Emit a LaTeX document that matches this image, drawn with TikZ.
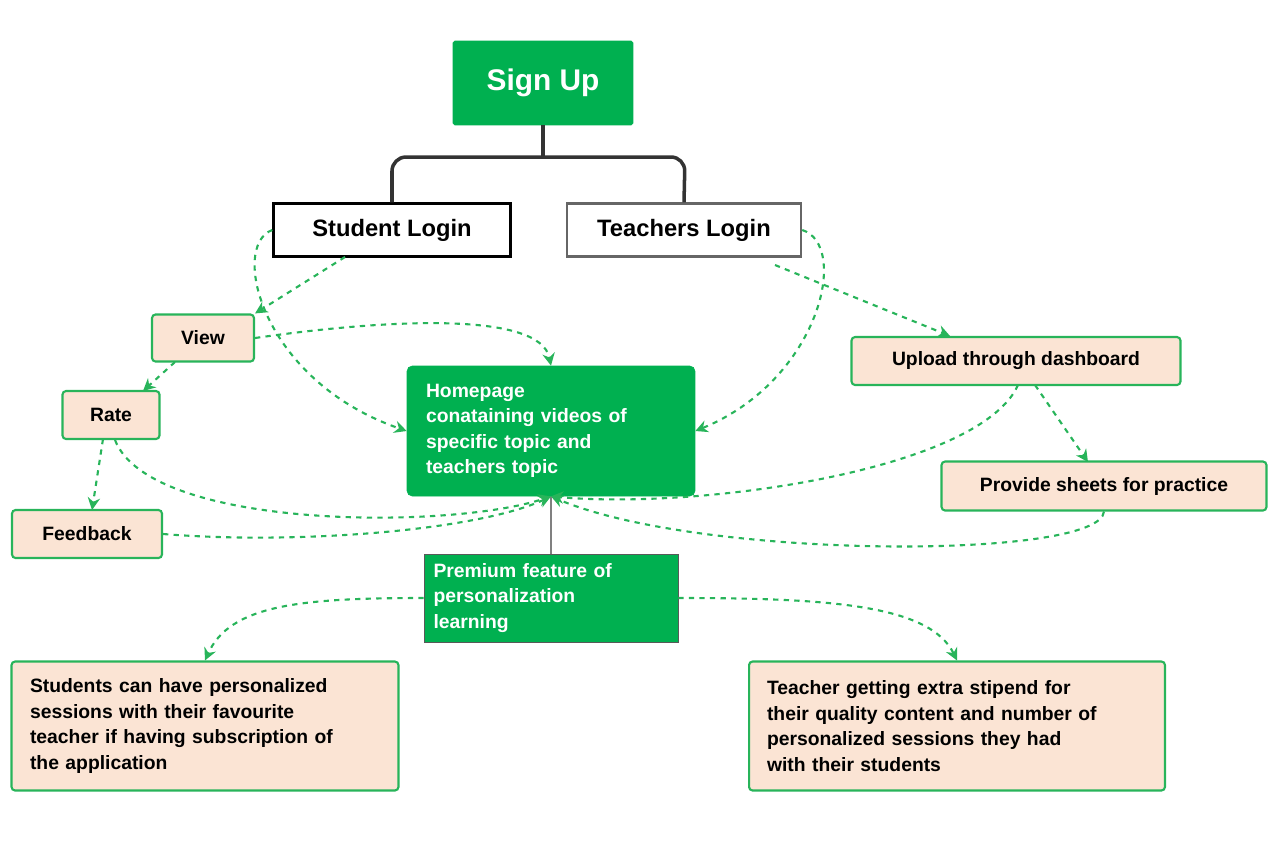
\documentclass[tikz,border=0pt]{standalone}
\usepackage{fontspec}
\setmainfont{Liberation Sans}
\usetikzlibrary{arrows.meta}
\definecolor{signgreen}{RGB}{0,176,80}
\definecolor{peach}{RGB}{251,228,212}
\definecolor{linegreen}{RGB}{40,180,90}
\begin{document}
\begin{tikzpicture}[x=0.02cm, y=-0.02cm,
  greenbox/.style={fill=signgreen, draw=signgreen, text=white, font=\bfseries\fontsize{11}{14.5}\selectfont, rounded corners=1pt},
  login/.style={draw, fill=white, line width=1.4pt, font=\bfseries\fontsize{13.5}{16}\selectfont},
  peachbox/.style={draw=linegreen, fill=peach, line width=1.2pt, rounded corners=2pt, font=\bfseries\fontsize{11}{14.5}\selectfont},
  flow/.style={draw=linegreen, dashed, line width=1.2pt, -{Stealth[length=7pt,width=7pt]}}]
  \useasboundingbox (0,0) rectangle (1280,846);
  % boxes
  \node[greenbox, minimum width=3.6cm, minimum height=1.68cm, font=\bfseries\fontsize{17}{20}\selectfont] (signup) at (543,83) {Sign Up};
  \node[login, minimum width=4.74cm, minimum height=1.06cm] (student) at (392,230) {Student Login};
  \node[login, draw=gray!80!black, minimum width=4.68cm, minimum height=1.06cm] (teacher) at (684,230) {Teachers Login};
  \node[peachbox, minimum width=2.04cm, minimum height=0.94cm] (view) at (203,338) {View};
  \node[peachbox, minimum width=1.94cm, minimum height=0.96cm] (rate) at (111,415) {Rate};
  \node[peachbox, minimum width=3.0cm, minimum height=0.96cm] (feedback) at (87,534) {Feedback};
  \node[greenbox, rounded corners=3pt, minimum width=5.76cm, minimum height=2.6cm, text width=5.0cm, align=left] (home) at (551,431)
    {Homepage\\conataining videos of\\specific topic and\\teachers topic};
  \node[peachbox, minimum width=6.58cm, minimum height=0.96cm] (upload) at (1016,361) {Upload through dashboard};
  \node[peachbox, minimum width=6.5cm, minimum height=0.98cm] (sheets) at (1104,486) {Provide sheets for practice};
  \node[greenbox, draw=gray!70!black, rounded corners=0pt, minimum width=5.08cm, minimum height=1.76cm, text width=4.7cm, align=left] (premium) at (551,598)
    {Premium feature of\\personalization\\learning};
  \node[peachbox, minimum width=7.74cm, minimum height=2.58cm, text width=7.0cm, align=left] (students) at (205,726)
    {Students can have personalized\\sessions with their favourite\\teacher if having subscription of\\the application};
  \node[peachbox, minimum width=8.32cm, minimum height=2.58cm, text width=7.6cm, align=left] (teachers) at (957,726)
    {Teacher getting extra stipend for\\their quality content and number of\\personalized sessions they had\\with their students};
  % tree from sign up
  \draw[line width=2pt, draw=black!80, rounded corners=8pt] (student.north) -- (392,157) -- (685,157) -- (teacher.north);
  \draw[line width=2pt, draw=black!80] (signup.south) -- (543,157);
  \draw[gray, line width=0.8pt] (premium.north) -- (home.south);
  % flows
  \draw[flow] (345,257) -- (view.north east);
  \draw[flow] (student.west) .. controls (230,245) and (260,380) .. (home.west);
  \draw[flow] (teacher.east) .. controls (850,245) and (820,380) .. (home.east);
  \draw[flow] (775,265) -- (950,336);
  \draw[flow] (view.east) .. controls (380,320) and (540,310) .. (home.north);
  \draw[flow] (175,362) -- (143,391);
  \draw[flow] (103,439) -- (92,510);
  \draw[flow] (115,440) .. controls (150,530) and (450,530) .. (home.south);
  \draw[flow] (feedback.east) .. controls (300,545) and (480,530) .. (home.south);
  \draw[flow] (1018,385) .. controls (980,470) and (700,510) .. (home.south);
  \draw[flow] (1035,385) -- (1088,462);
  \draw[flow] (sheets.south) .. controls (1100,560) and (700,560) .. (home.south);
  \draw[flow] (premium.west) .. controls (300,598) and (230,605) .. (students.north);
  \draw[flow] (premium.east) .. controls (830,598) and (930,605) .. (teachers.north);
\end{tikzpicture}
\end{document}
